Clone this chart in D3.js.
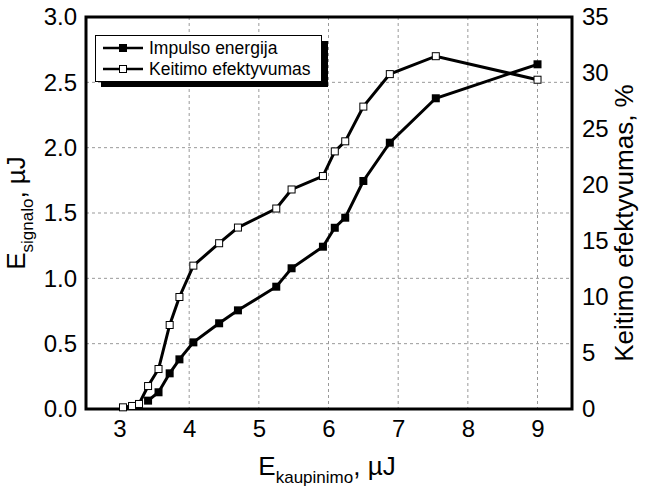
<!DOCTYPE html>
<html><head><meta charset="utf-8">
<script src="https://cdn.jsdelivr.net/npm/d3@7"></script>
<style>body{margin:0;background:#fff}svg{display:block;font-family:"Liberation Sans",Arial,sans-serif}</style>
</head><body><svg id="c" width="650" height="491"></svg>
<script>
// Data
const pumpX   = [3.41,3.56,3.72,3.86,4.06,4.43,4.70,5.25,5.47,5.92,6.09,6.24,6.50,6.88,7.54,9.00];
const signalE = [0.064,0.128,0.273,0.380,0.510,0.656,0.755,0.936,1.077,1.242,1.387,1.464,1.745,2.038,2.378,2.638];
const effX    = [3.05,3.18,3.28,3.41,3.56,3.72,3.86,4.06,4.43,4.70,5.25,5.47,5.92,6.09,6.24,6.50,6.88,7.54,9.00];
const effV    = [0.15,0.27,0.45,2.05,3.57,7.5,10.0,12.8,14.8,16.2,17.9,19.6,20.8,23.0,23.9,27.0,29.9,31.5,29.4];
const xTicks  = [3,4,5,6,7,8,9];
const yLTicks = [0,0.5,1,1.5,2,2.5,3];
const yRTicks = [0,5,10,15,20,25,30,35];
const legendLabels = ["Impulso energija","Keitimo efektyvumas"];

const svg = d3.select("#c");
const L=86,R=572,T=17,B=409;
const x = d3.scaleLinear().domain([2.519,9.495]).range([L,R]);
const yL = d3.scaleLinear().domain([0,3]).range([B,T]);
const yR = d3.scaleLinear().domain([0,35]).range([B,T]);

// grid
const g = svg.append("g").attr("stroke","#999").attr("stroke-width",1).attr("stroke-dasharray","3,3");
xTicks.filter(d=>d>3).forEach(d=>g.append("line").attr("x1",x(d)).attr("x2",x(d)).attr("y1",T).attr("y2",B));
yLTicks.filter(d=>d>0&&d<3).forEach(d=>g.append("line").attr("x1",L).attr("x2",R).attr("y1",yL(d)).attr("y2",yL(d)));

// axes
const fs = 24;
const ax = svg.append("g").attr("transform",`translate(0,${B})`).call(d3.axisBottom(x).tickValues(xTicks).tickFormat(d3.format("d")).tickSize(0).tickPadding(11));
const ayl = svg.append("g").attr("transform",`translate(${L},0)`).call(d3.axisLeft(yL).tickValues(yLTicks).tickFormat(d3.format(".1f")).tickSize(0).tickPadding(9));
const ayr = svg.append("g").attr("transform",`translate(${R},0)`).call(d3.axisRight(yR).tickValues(yRTicks).tickFormat(d3.format("d")).tickSize(0).tickPadding(10));
[ax,ayl,ayr].forEach(a=>{a.select(".domain").remove();a.selectAll("text").attr("font-size",fs).attr("font-family","Liberation Sans, Arial, sans-serif").attr("fill","#000");});

// frame
svg.append("rect").attr("x",L).attr("y",T).attr("width",R-L).attr("height",B-T).attr("fill","none").attr("stroke","#000").attr("stroke-width",3);

// series
const line1 = d3.line().x((d,i)=>x(pumpX[i])).y(d=>yL(d));
svg.append("path").datum(signalE).attr("d",line1).attr("fill","none").attr("stroke","#000").attr("stroke-width",3);
const line2 = d3.line().x((d,i)=>x(effX[i])).y(d=>yR(d));
svg.append("path").datum(effV).attr("d",line2).attr("fill","none").attr("stroke","#000").attr("stroke-width",3);
const ms=8;
svg.selectAll(".m1").data(signalE).join("rect").attr("x",(d,i)=>x(pumpX[i])-ms/2).attr("y",d=>yL(d)-ms/2).attr("width",ms).attr("height",ms).attr("fill","#000");
svg.selectAll(".m2").data(effV).join("rect").attr("x",(d,i)=>x(effX[i])-ms/2+0.5).attr("y",d=>yR(d)-ms/2+0.5).attr("width",ms-1).attr("height",ms-1).attr("fill","#fff").attr("stroke","#000").attr("stroke-width",1);

// legend
const lg = svg.append("g");
lg.append("rect").attr("x",101).attr("y",41).attr("width",227).attr("height",46).attr("fill","#000");
lg.append("rect").attr("x",95.5).attr("y",35.5).attr("width",226).attr("height",46).attr("fill","#fff").attr("stroke","#000").attr("stroke-width",1);
legendLabels.forEach((t,i)=>{
  const yy = 48+i*21;
  lg.append("line").attr("x1",103).attr("x2",143).attr("y1",yy).attr("y2",yy).attr("stroke","#000").attr("stroke-width",2.5);
  lg.append("rect").attr("x",i?119.5:119).attr("y",i?yy-3.5:yy-4).attr("width",i?7:8).attr("height",i?7:8).attr("fill",i?"#fff":"#000").attr("stroke",i?"#000":"none").attr("stroke-width",1);
  lg.append("text").attr("x",149).attr("y",yy).attr("dy","0.35em").attr("font-size",17.5).text(t);
});

// axis titles
const xt = svg.append("text").attr("x",327).attr("y",475).attr("text-anchor","middle").attr("font-size",26);
xt.append("tspan").text("E");
xt.append("tspan").attr("font-size",17).attr("dy",8).text("kaupinimo");
xt.append("tspan").attr("dy",-8).text(", µJ");

const ylt = svg.append("text").attr("transform","translate(25,213) rotate(-90)").attr("text-anchor","middle").attr("font-size",26);
ylt.append("tspan").text("E");
ylt.append("tspan").attr("font-size",17).attr("dy",8).text("signalo");
ylt.append("tspan").attr("dy",-8).text(", µJ");

svg.append("text").attr("transform","translate(633,223) rotate(-90)").attr("text-anchor","middle").attr("font-size",26).text("Keitimo efektyvumas, %");
</script></body></html>
